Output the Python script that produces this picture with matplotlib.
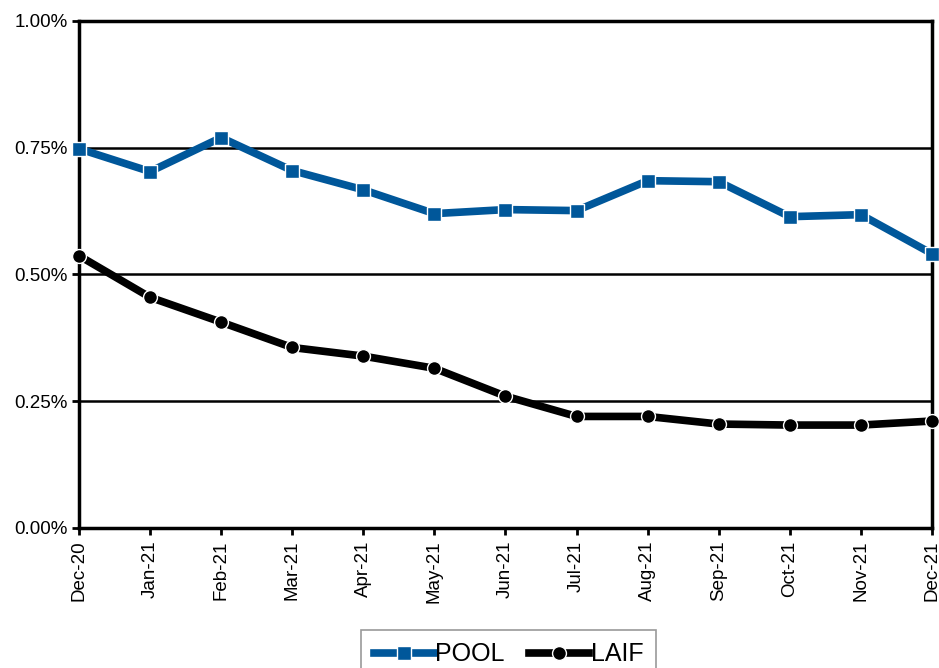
import matplotlib
matplotlib.use("Agg")
import matplotlib.pyplot as plt
from matplotlib.ticker import FuncFormatter

plt.rcParams['font.family'] = ['Liberation Sans', 'DejaVu Sans']

months = ["Dec-20", "Jan-21", "Feb-21", "Mar-21", "Apr-21", "May-21", "Jun-21",
          "Jul-21", "Aug-21", "Sep-21", "Oct-21", "Nov-21", "Dec-21"]
pool = [0.748, 0.703, 0.770, 0.705, 0.667, 0.620, 0.628, 0.626, 0.685, 0.683, 0.614, 0.618, 0.541]
laif = [0.537, 0.455, 0.406, 0.356, 0.339, 0.315, 0.260, 0.220, 0.220, 0.205, 0.203, 0.203, 0.211]

fig = plt.figure(figsize=(9.39, 6.68), dpi=100)
ax = fig.add_axes([0.0841, 0.2096, 0.9084, 0.759])

x = range(len(months))
ax.plot(x, pool, color="#00579a", lw=5.5, marker="s", ms=10, mfc="#00579a",
        mec="white", mew=1, label="POOL", zorder=3, clip_on=False)
ax.plot(x, laif, color="black", lw=5.5, marker="o", ms=10, mfc="black",
        mec="white", mew=1, label="LAIF", zorder=3, clip_on=False)

ax.set_xlim(0, len(months) - 1)
ax.set_ylim(0, 1.0)
ax.set_yticks([0, 0.25, 0.5, 0.75, 1.0])
ax.yaxis.set_major_formatter(FuncFormatter(lambda v, p: f"{v:.2f}%"))
ax.set_xticks(list(x))
ax.set_xticklabels(months, rotation=90)
ax.tick_params(axis="both", labelsize=13.5, length=5, width=2, direction="out", color="black")
ax.tick_params(axis="x", pad=4)
ax.tick_params(axis="y", pad=3)

for s in ax.spines.values():
    s.set_linewidth(2.5)
    s.set_color("black")
for v in [0.25, 0.5, 0.75]:
    ax.axhline(v, color="black", lw=1.8, zorder=1)

leg = fig.legend(loc="upper center", bbox_to_anchor=(0.5415, 0.0569), ncol=2,
                 fontsize=18, frameon=True, fancybox=False, edgecolor="#808080",
                 handlelength=2.4, handletextpad=0.05, columnspacing=1.0,
                 borderpad=0.5, borderaxespad=0)
leg.get_frame().set_linewidth(1.2)

fig.savefig("out.png", dpi=100)
